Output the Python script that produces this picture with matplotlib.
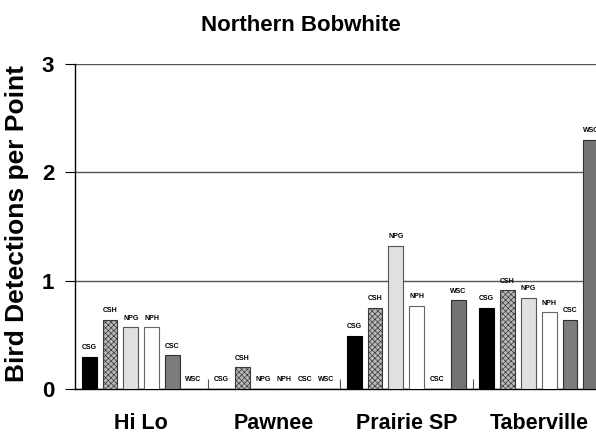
import numpy as np
import matplotlib
matplotlib.use('Agg')
import matplotlib.pyplot as plt

plt.rcParams['font.family'] = ['Liberation Sans', 'DejaVu Sans']
plt.rcParams['font.weight'] = 'bold'
plt.rcParams['hatch.linewidth'] = 0.5

# Data
sites = ['Hi Lo', 'Pawnee', 'Prairie SP', 'Taberville']
habitats = ['CSG', 'CSH', 'NPG', 'NPH', 'CSC', 'WSC']
csg = [0.30, 0.00, 0.49, 0.75]
csh = [0.64, 0.20, 0.75, 0.91]
npg = [0.57, 0.00, 1.32, 0.84]
nph = [0.57, 0.00, 0.77, 0.71]
csc = [0.31, 0.00, 0.00, 0.64]
wsc = [0.00, 0.00, 0.82, 2.30]
series = [csg, csh, npg, nph, csc, wsc]

faces = ['black', '#b8b8b8', '#e0e0e0', 'white', '#7c7c7c', '#737373']
edges = ['black', '#3a3a3a', '#555555', '#666666', '#303030', '#303030']
hatches = [None, 'xxxxxx', None, None, None, None]

fig = plt.figure(figsize=(5.96, 4.34), dpi=100)
ax = fig.add_axes([75 / 596, 45 / 434, 530 / 596, 325 / 434])

x = np.arange(len(sites))
pitch = 0.157
width = 0.111
for i, vals in enumerate(series):
    pos = x + (i - 2.5) * pitch
    ax.bar(pos, vals, width, color=faces[i], edgecolor=edges[i],
           linewidth=0.8, hatch=hatches[i], zorder=3)
    for px, v in zip(pos, vals):
        ax.annotate(habitats[i], (px, v), xytext=(0, 4), textcoords='offset points',
                    ha='center', va='bottom', fontsize=5, fontweight='bold')

ax.set_xlim(-0.5, 3.5)
ax.set_ylim(0, 3)
ax.set_yticks([0, 1, 2, 3])
ax.set_yticklabels(['0', '1', '2', '3'], fontsize=16, fontweight='bold')
ax.yaxis.grid(True, color='#555555', linewidth=1, zorder=0)
ax.tick_params(axis='y', length=7, width=0.8, pad=8)

# group separators as small inner ticks, names placed as text
ax.set_xticks([0.5, 1.5, 2.5])
ax.set_xticklabels([])
ax.tick_params(axis='x', direction='in', length=7, width=0.8, color='#555555')
for xi, name in zip(x, sites):
    ax.text(xi, -0.37, name, ha='center', va='baseline', fontsize=15.5,
            fontweight='bold')

for s in ['top', 'right']:
    ax.spines[s].set_visible(False)
ax.spines['left'].set_linewidth(1)
ax.spines['bottom'].set_linewidth(1)

fig.text(17 / 596, 1 - 224 / 434, 'Bird Detections per Point', rotation=90,
         ha='center', va='center', fontsize=19, fontweight='bold')
fig.text(301 / 596, 1 - 31 / 434, 'Northern Bobwhite', ha='center', va='baseline',
         fontsize=16, fontweight='bold')

fig.savefig('out.png', dpi=100)
